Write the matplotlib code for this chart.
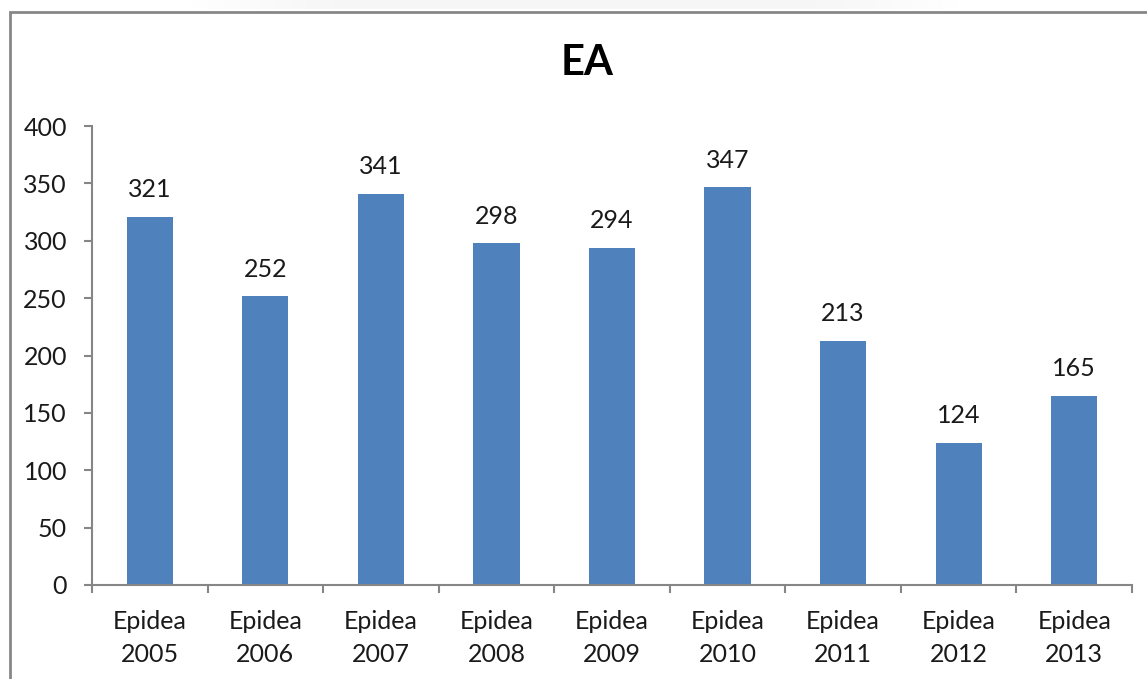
import matplotlib
matplotlib.use("Agg")
import matplotlib.pyplot as plt
from matplotlib.patches import Rectangle
import numpy as np

categories = ["Epidea\n2005", "Epidea\n2006", "Epidea\n2007", "Epidea\n2008", "Epidea\n2009",
              "Epidea\n2010", "Epidea\n2011", "Epidea\n2012", "Epidea\n2013"]
values = [321, 252, 341, 298, 294, 347, 213, 124, 165]
yticks = [0, 50, 100, 150, 200, 250, 300, 350, 400]
title = "EA"

plt.rcParams["font.family"] = ["Lato", "DejaVu Sans"]

W, H = 1147, 679
fig = plt.figure(figsize=(W / 100, H / 100), dpi=100)
fig.patch.set_facecolor("white")

# faint shading strip above the frame
grad = np.concatenate([np.linspace(0, 1, 40), np.ones(120), np.linspace(1, 0, 40)])
shade = fig.add_axes([180 / W, 1 - 9 / H, 790 / W, 9 / H])
shade.imshow(grad[None, :], cmap="Greys", vmin=0, vmax=14, aspect="auto", alpha=1.0)
shade.axis("off")

# chart frame
fig.add_artist(Rectangle((10 / W, -0.05), 1.2, (H - 12) / H + 0.05, transform=fig.transFigure,
                         fill=False, edgecolor="#878787", linewidth=2.0))

left, right, top, bottom = 92, 1132, 126, 585
ax = fig.add_axes([left / W, 1 - bottom / H, (right - left) / W, (bottom - top) / H])

x = np.arange(len(values))
ax.bar(x, values, width=0.4, color="#4F81BD", zorder=2)
for xi, v in zip(x, values):
    ax.annotate(str(v), (xi, v), xytext=(0, 11), textcoords="offset points",
                ha="center", va="bottom", fontsize=18, color="#1a1a1a")

ax.set_xlim(-0.5, len(values) - 0.5)
ax.set_ylim(0, 400)
ax.set_yticks(yticks)
ax.set_yticklabels([str(t) for t in yticks], fontsize=18, color="#1a1a1a")
ax.set_xticks(x)
ax.set_xticklabels(categories, fontsize=18, color="#1a1a1a", linespacing=1.5)
ax.tick_params(axis="x", length=0, pad=18)
ax.set_xticks(np.arange(len(values) + 1) - 0.5, minor=True)
ax.tick_params(axis="x", which="minor", length=6, color="#868686", width=1.5, direction="out")
ax.tick_params(axis="y", length=6, color="#868686", width=1.5, direction="out", pad=12)

for s in ["top", "right"]:
    ax.spines[s].set_visible(False)
for s in ["left", "bottom"]:
    ax.spines[s].set_color("#868686")
    ax.spines[s].set_linewidth(1.5)

fig.text(587 / W, 1 - 63 / H, title, ha="center", va="center",
         fontsize=30, fontweight="bold", color="#000000")

fig.savefig("out.png", dpi=100)
